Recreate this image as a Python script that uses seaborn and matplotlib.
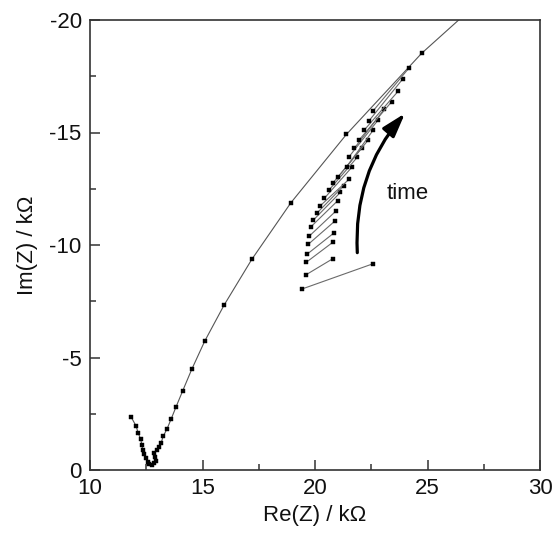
import numpy as np
import pandas as pd
import matplotlib
matplotlib.use("Agg")
import matplotlib.pyplot as plt
import seaborn as sns

# ---- main spectrum (Re, Im in kOhm) ----
main_re = [11.82, 12.04, 12.15, 12.25, 12.31, 12.34, 12.41, 12.49, 12.56, 12.64,
           12.74, 12.84, 12.92, 12.89, 12.84, 12.96, 13.08, 13.16, 13.26, 13.42,
           13.60, 13.83, 14.12, 14.52, 15.10, 15.96, 17.19, 18.93, 21.40, 24.74, 28.50]
main_im = [-2.37, -1.97, -1.63, -1.36, -1.12, -0.89, -0.70, -0.52, -0.37, -0.27,
           -0.22, -0.30, -0.41, -0.59, -0.77, -0.89, -1.04, -1.21, -1.51, -1.82,
           -2.25, -2.82, -3.52, -4.47, -5.73, -7.33, -9.36, -11.88, -14.92, -18.52, -21.90]

# ---- time series: each spectrum = first point -> second point ----
first_re = [19.41, 19.59, 19.61, 19.66, 19.70, 19.75, 19.82, 19.93, 20.08, 20.22, 20.41,
            20.62, 20.80, 21.04, 21.41, 21.51, 21.75, 21.96, 22.19, 22.40, 22.59]
first_im = [-8.04, -8.67, -9.23, -9.60, -10.03, -10.40, -10.81, -11.11, -11.41, -11.73, -12.07,
            -12.44, -12.76, -13.04, -13.48, -13.92, -14.30, -14.67, -15.11, -15.52, -15.97]
second_re = [22.56, 20.79, 20.79, 20.86, 20.89, 20.93, 21.00, 21.13, 21.27, 21.51, 21.66,
             21.88, 22.07, 22.37, 22.59, 22.81, 23.08, 23.41, 23.70, 23.90, 24.19]
second_im = [-9.16, -9.39, -10.12, -10.55, -11.07, -11.51, -11.96, -12.34, -12.63, -12.92, -13.48,
             -13.90, -14.30, -14.67, -15.11, -15.56, -16.04, -16.37, -16.84, -17.38, -17.88]

x_ticks = [10, 15, 20, 25, 30]
y_ticks = [0, -5, -10, -15, -20]

sns.set_style("ticks")
plt.rcParams["font.family"] = ["Liberation Sans", "DejaVu Sans"]
plt.rcParams["axes.unicode_minus"] = False

fig = plt.figure(figsize=(5.55, 5.34), dpi=100)
ax = fig.add_axes([90 / 555, 64 / 534, 450 / 555, 450 / 534])

main_df = pd.DataFrame({"re": main_re, "im": main_im})
sns.lineplot(data=main_df, x="re", y="im", sort=False, estimator=None, ax=ax,
             color="#555555", lw=0.8, marker="s", markersize=3.4,
             markerfacecolor="black", markeredgecolor="black", markeredgewidth=0.3)

n = len(first_re)
ts_df = pd.DataFrame({
    "re": [v for pair in zip(first_re, second_re) for v in pair],
    "im": [v for pair in zip(first_im, second_im) for v in pair],
    "spec": [k for k in range(n) for _ in range(2)],
})
sns.lineplot(data=ts_df, x="re", y="im", units="spec", estimator=None, sort=False, ax=ax,
             color="#6a6a6a", lw=0.8, marker="s", markersize=3.4,
             markerfacecolor="black", markeredgecolor="black", markeredgewidth=0.3)

ax.annotate("", xy=(24.0, -15.85), xytext=(21.88, -9.66),
            arrowprops=dict(arrowstyle="-|>,head_length=0.8,head_width=0.25",
                            connectionstyle="arc3,rad=-0.2", color="black",
                            lw=2.3, mutation_scale=18, shrinkA=0, shrinkB=0))
ax.text(24.11, -12.31, "time", fontsize=16, ha="center", va="center", color="#111111")

ax.set_xlim(10, 30)
ax.set_ylim(0, -20)
ax.set_xticks(x_ticks)
ax.set_yticks(y_ticks)
ax.set_xticklabels([str(v) for v in x_ticks])
ax.set_yticklabels([str(v) for v in y_ticks])
ax.set_xticks([12.5, 17.5, 22.5, 27.5], minor=True)
ax.set_yticks([-2.5, -7.5, -12.5, -17.5], minor=True)
ax.tick_params(which="major", direction="in", length=7, width=1.1, colors="#333333",
               labelsize=16, labelcolor="#111111", pad=6)
ax.tick_params(which="minor", direction="in", length=4, width=1.1, colors="#333333")
for sp in ax.spines.values():
    sp.set_linewidth(1.2)
    sp.set_color("#333333")
    sp.set_visible(True)

ax.set_xlabel("Re(Z) / kΩ", fontsize=16, color="#111111", labelpad=4)
ax.set_ylabel("Im(Z) / kΩ", fontsize=16, color="#111111", labelpad=8)

fig.savefig("out.png", dpi=100)
